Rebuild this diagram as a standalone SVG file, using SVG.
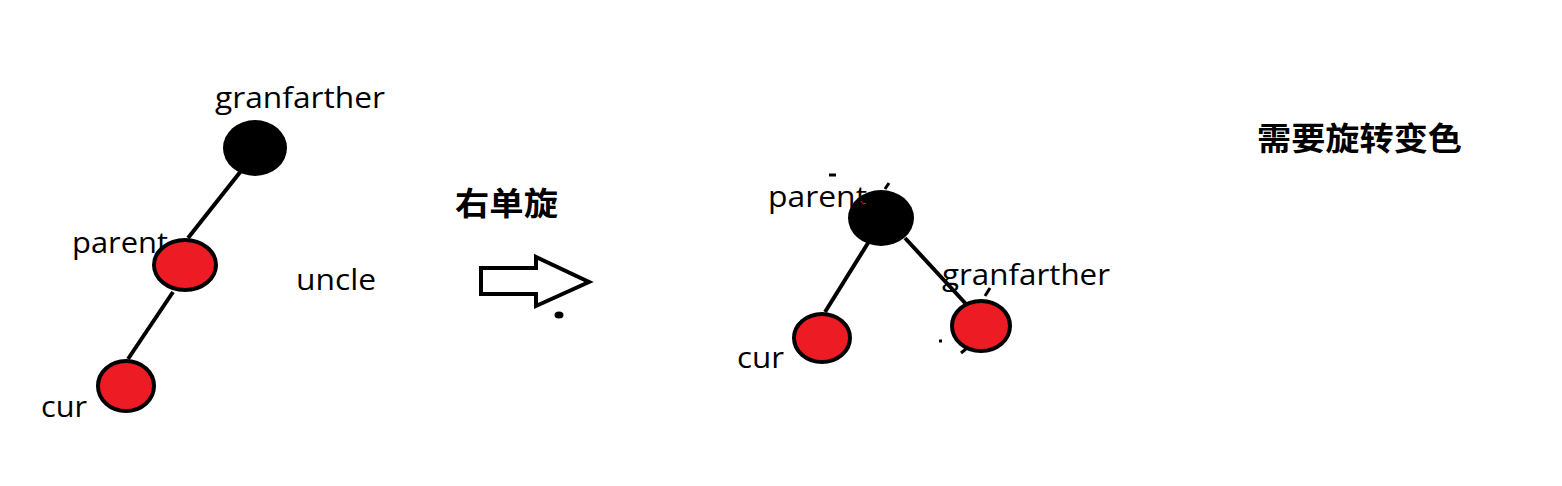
<svg xmlns="http://www.w3.org/2000/svg" width="1562" height="486" viewBox="0 0 1562 486">
<style>
.lbl{font-family:"Open Sans","Noto Sans",sans-serif;font-size:30px;fill:#000}
.cjk{font-family:"Noto Sans CJK SC",sans-serif;font-size:32px;font-weight:700;fill:#000}
.red{fill:#ED1C24;stroke:#000;stroke-width:4}
.blk{fill:#000}
.edge{stroke:#000;stroke-width:4;fill:none}
.mark{stroke:#000;stroke-width:3;fill:none}
</style>
<rect width="1562" height="486" fill="#fff"/>
<g id="connectors">
<line class="edge" x1="241" y1="171" x2="188" y2="238"/>
<line class="edge" x1="173" y1="292" x2="128" y2="359"/>
<line class="edge" x1="868" y1="243" x2="825" y2="312"/>
<line class="edge" x1="905" y1="238" x2="966" y2="304"/>
</g>
<g id="left-granfarther">
<ellipse class="blk" cx="255" cy="148" rx="32" ry="28"/>
<text class="lbl" x="215" y="108" textLength="170" lengthAdjust="spacingAndGlyphs">granfarther</text>
</g>
<g id="left-parent">
<text class="lbl" x="72" y="253" textLength="96" lengthAdjust="spacingAndGlyphs">parent</text>
<ellipse class="red" cx="185" cy="265" rx="31" ry="25"/>
</g>
<g id="left-cur">
<ellipse class="red" cx="126" cy="386" rx="28" ry="25"/>
<text class="lbl" x="41" y="417" textLength="46" lengthAdjust="spacingAndGlyphs">cur</text>
</g>
<g id="left-uncle">
<text class="lbl" x="296" y="290" textLength="80" lengthAdjust="spacingAndGlyphs">uncle</text>
</g>
<g id="rotate-label">
<text class="cjk" x="455" y="215" textLength="103" lengthAdjust="spacingAndGlyphs">右单旋</text>
</g>
<g id="arrow">
<polygon points="481,268 536,268 536,257 589,282 536,306 536,294 481,294" fill="#fff" stroke="#000" stroke-width="4" stroke-linejoin="miter"/>
<ellipse cx="559" cy="315" rx="4.5" ry="3.5" fill="#000"/>
</g>
<g id="right-parent">
<ellipse class="blk" cx="881" cy="218" rx="33" ry="28"/>
<text class="lbl" x="768" y="207" textLength="99" lengthAdjust="spacingAndGlyphs">parent</text>
<line class="mark" x1="829" y1="175" x2="836" y2="175"/>
<line class="mark" x1="885" y1="189" x2="889" y2="183"/>
<path d="M861,201 l2,3 l3,-1" stroke="#ED1C24" stroke-width="1" fill="none"/>
</g>
<g id="right-cur">
<ellipse class="red" cx="822" cy="338" rx="28" ry="24"/>
<text class="lbl" x="737" y="368" textLength="47" lengthAdjust="spacingAndGlyphs">cur</text>
</g>
<g id="right-granfarther">
<ellipse class="red" cx="981" cy="326" rx="29" ry="25"/>
<text class="lbl" x="942" y="285" textLength="168" lengthAdjust="spacingAndGlyphs">granfarther</text>
<line class="mark" x1="985" y1="296" x2="990" y2="288"/>
<line class="mark" x1="939" y1="341" x2="942" y2="341"/>
<line class="mark" x1="961" y1="353" x2="966" y2="349"/>
</g>
<g id="note">
<text class="cjk" x="1257" y="150" textLength="205" lengthAdjust="spacingAndGlyphs">需要旋转变色</text>
</g>
</svg>
